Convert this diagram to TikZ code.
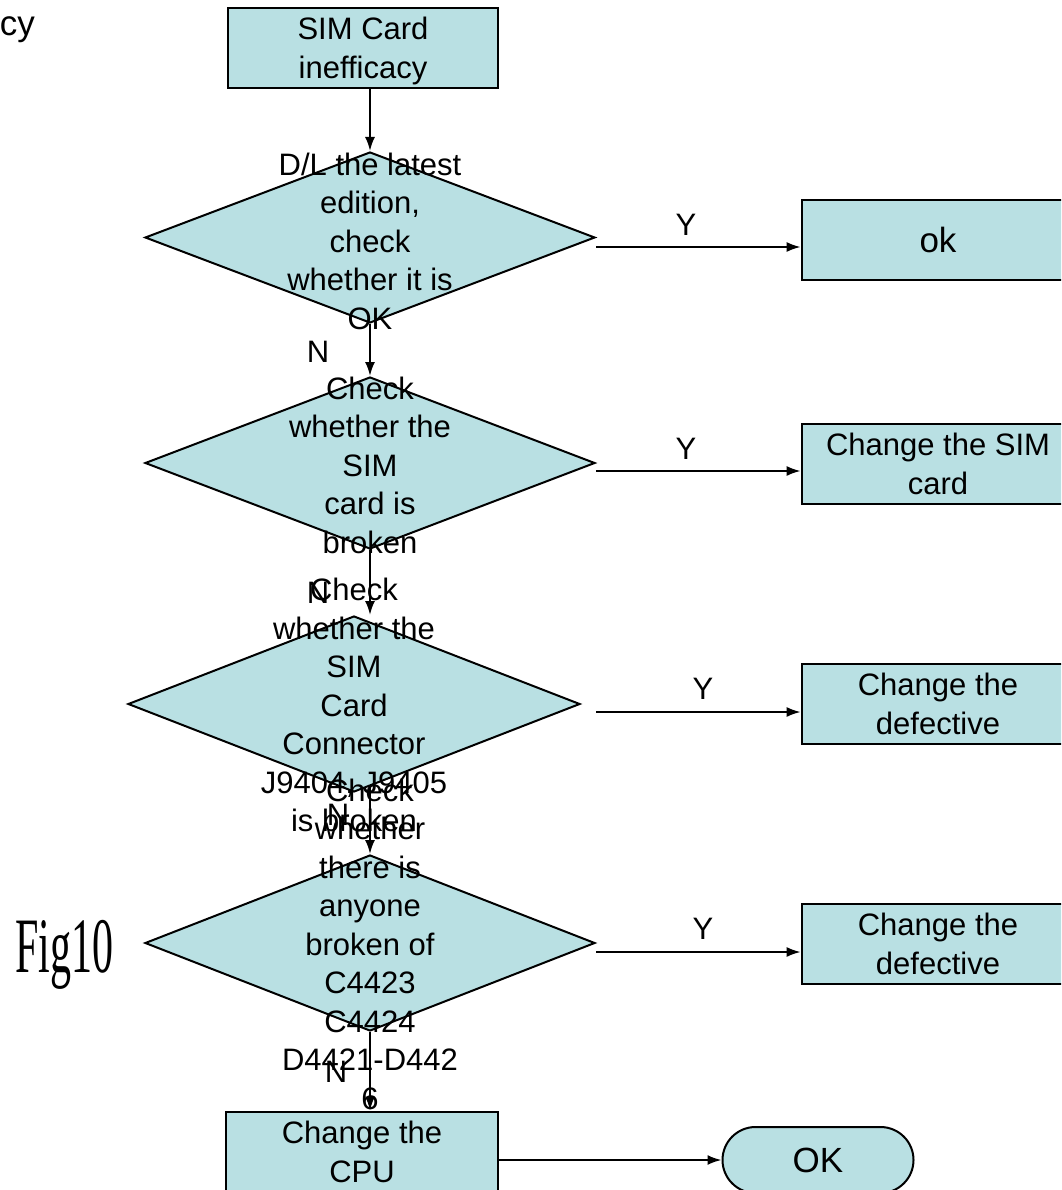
\documentclass[tikz,border=0pt]{standalone}
\usepackage{fontspec}
\setmainfont{Liberation Sans}
\newfontfamily\figfont{Liberation Serif}
\usetikzlibrary{shapes.geometric,shapes.misc,arrows.meta,calc}
\definecolor{boxfill}{RGB}{185,224,227}
\begin{document}
\begin{tikzpicture}[x=1pt,y=-1pt,
  every node/.style={font=\fontsize{31}{38.5}\selectfont, inner sep=0pt},
  bigtext/.style={font=\fontsize{35}{40}\selectfont},
  procbox/.style={draw, line width=2.7pt, fill=boxfill, minimum width=272pt,
    minimum height=80pt, align=center},
  decision/.style={diamond, draw, line width=2pt, fill=boxfill},
  terminal/.style={rounded rectangle, draw, line width=2pt, fill=boxfill,
    minimum width=191pt, minimum height=66pt},
  arr/.style={line width=2pt, -{Latex[length=14pt,width=10pt]}},
  txt/.style={align=center},
]
\clip (0,0) rectangle (1061,1190);

% process boxes
\node[procbox, minimum width=270pt] (t) at (363,48) {SIM Card\\\smash{inefficacy}};
\node[procbox, bigtext] (ok) at (938,240) {ok};
\node[procbox] (b2) at (938,464) {Change the SIM\\card};
\node[procbox] (b3) at (938,704) {Change the\\defective};
\node[procbox] (b4) at (938,944) {Change the\\defective};
\node[procbox] (c) at (362,1152) {Change the\\CPU};
\node[terminal, bigtext] (fin) at (818,1160) {OK};

% decision diamonds
\node[decision, minimum width=450pt, minimum height=171pt] (d1) at (370,237.5) {};
\node[decision, minimum width=450pt, minimum height=172pt] (d2) at (370,463) {};
\node[decision, minimum width=452pt, minimum height=176pt] (d3) at (354,704) {};
\node[decision, minimum width=450pt, minimum height=176pt] (d4) at (370,943) {};

% flow down the main column
\draw[arr] (t.south -| d1.north) -- (d1.north);
\draw[arr] (d1.south) -- (d2.north);
\draw[arr] (d2.south) -- (d2.south |- d3.north);
\draw[arr, shorten <=-7pt] (d3.south -| d4.north) -- (d4.north);
\draw[arr] (d4.south) -- (d4.south |- c.north);
\draw[arr] (fin.west -| c.east) -- (fin.west);

% yes branches
\draw[arr] ([yshift=-9.5pt]d1.east) coordinate (s1) -- (s1 -| ok.west);
\draw[arr] ([yshift=-8pt]d2.east) coordinate (s2) -- (s2 -| b2.west);
\draw[arr] ($(d3.east)+(15,8)$) coordinate (s3) -- (s3 -| b3.west);
\draw[arr] ([yshift=-9pt]d4.east) coordinate (s4) -- (s4 -| b4.west);

% branch labels
\node (y1) at (686,225) {Y};
\node (y2) at (686,449) {Y};
\node (y3) at (703,689) {Y};
\node (y4) at (703,929) {Y};
\node (n1) at (318,352) {N};
\node (n2) at (318,593) {N};
\node (n3) at (338,815) {N};
\node (n4) at (336,1072) {N};

% decision texts
\node[txt] (q1) at (370,241) {D/L the latest\\edition,\\check\\whether it is\\OK};
\node[txt] (q2) at (370,465) {Check\\whether the\\SIM\\card is\\broken};
\node[txt] (q3) at (354,705) {Check\\whether the\\SIM\\Card\\Connector\\J9404, J9405\\is broken};
\node[txt] (q4) at (370,944) {Check\\whether\\there is\\anyone\\broken of\\C4423\\C4424\\D4421-D442\\6};

% side captions
\node[anchor=base east, bigtext] (cy) at (35,36) {cy};
\node[anchor=base west] (fig) at (15,972) {\scalebox{0.535}[1]{\fontsize{78.5}{80}\figfont Fig10}};
\end{tikzpicture}
\end{document}
